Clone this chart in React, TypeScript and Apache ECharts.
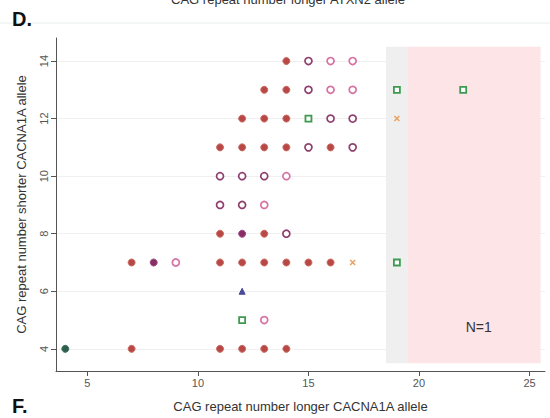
import React, { useEffect, useRef } from "react";
import * as echarts from "echarts";

const xTicks = [5, 10, 15, 20, 25];
const yTicks = [4, 6, 8, 10, 12, 14];

const filledRed: number[][] = [
  [14, 14], [13, 13], [14, 13], [12, 12], [13, 12], [14, 12],
  [11, 11], [12, 11], [13, 11], [14, 11], [16, 11], [11, 8], [13, 8],
  [7, 7], [11, 7], [12, 7], [13, 7], [14, 7], [15, 7], [16, 7],
  [7, 4], [11, 4], [12, 4], [13, 4], [14, 4],
];
const hollowPurple: number[][] = [
  [15, 14], [15, 13], [16, 12], [17, 12], [15, 11], [17, 11],
  [11, 10], [12, 10], [13, 10], [11, 9], [12, 9], [14, 8],
];
const hollowPink: number[][] = [
  [16, 14], [17, 14], [16, 13], [17, 13], [14, 10], [13, 9], [9, 7], [13, 5],
];
const filledMagenta: number[][] = [[12, 8], [8, 7]];
const greenSquares: number[][] = [[15, 12], [19, 13], [22, 13], [19, 7], [12, 5]];
const orangeX: number[][] = [[19, 12], [17, 7]];
const blueTriangle: number[][] = [[12, 6]];
const darkGreen: number[][] = [[4, 4]];

const grayBand = [18.5, 19.5];
const pinkBand = [19.5, 25.5];
const bandY = [3.5, 14.5];
const noteLabel = "N=1";
const notePos = [22.7, 4.75];

export default function App() {
  const ref = useRef<HTMLDivElement>(null);
  useEffect(() => {
    if (!ref.current) return;
    const chart = echarts.init(ref.current, null, { renderer: "svg" });
    const font = "Liberation Sans, Arial, sans-serif";
    chart.setOption({
      animation: false,
      backgroundColor: "#ffffff",
      textStyle: { fontFamily: font },
      grid: { left: 56, top: 38, right: 5, bottom: 41, containLabel: false },
      xAxis: {
        type: "value",
        min: 3.58,
        max: 25.7,
        name: "CAG repeat number longer CACNA1A allele",
        nameLocation: "middle",
        nameGap: 29,
        nameTextStyle: { fontSize: 13, color: "#333", fontFamily: font },
        axisLine: { show: true, lineStyle: { color: "#555", width: 1 } },
        axisTick: { show: true, customValues: xTicks, length: 5, lineStyle: { color: "#555" } },
        axisLabel: { customValues: xTicks, fontSize: 11, color: "#555", margin: 6, fontFamily: font },
        splitLine: { show: false },
      },
      yAxis: {
        type: "value",
        min: 3.23,
        max: 14.8,
        name: "CAG repeat number shorter CACNA1A allele",
        nameLocation: "middle",
        nameGap: 28,
        nameTextStyle: { fontSize: 13, color: "#333", fontFamily: font },
        axisLine: { show: true, lineStyle: { color: "#555", width: 1 } },
        axisTick: { show: true, customValues: yTicks, length: 5, lineStyle: { color: "#555" } },
        axisLabel: { customValues: yTicks, rotate: 90, fontSize: 11, color: "#555", margin: 7, fontFamily: font },
        splitLine: { show: true, lineStyle: { color: "#f0f0f0", width: 1 } },
      },
      graphic: [
        { type: "line", shape: { x1: 0, y1: 23, x2: 550, y2: 23 }, style: { stroke: "#e8eeee", lineWidth: 1 } },
        { type: "text", x: 288, y: -7, style: { text: "CAG repeat number longer ATXN2 allele", fontSize: 13, fill: "#333", textAlign: "center", fontFamily: font } },
        { type: "text", x: 12, y: 9, style: { text: "D.", fontSize: 20, fontWeight: "bold", fill: "#111", fontFamily: font } },
        { type: "text", x: 12, y: 396, style: { text: "F.", fontSize: 20, fontWeight: "bold", fill: "#111", fontFamily: font } },
      ],
      series: [
        {
          type: "scatter",
          name: "bands",
          data: [],
          silent: true,
          markArea: {
            silent: true,
            data: [
              [
                { xAxis: grayBand[0], yAxis: bandY[0], itemStyle: { color: "#efefef" } },
                { xAxis: grayBand[1], yAxis: bandY[1] },
              ],
              [
                { xAxis: pinkBand[0], yAxis: bandY[0], itemStyle: { color: "#fde4e7" } },
                { xAxis: pinkBand[1], yAxis: bandY[1] },
              ],
            ],
          },
          markPoint: {
            symbol: "circle",
            symbolSize: 0,
            label: { show: true, formatter: noteLabel, fontSize: 14, color: "#333", fontFamily: font },
            data: [{ coord: notePos, value: noteLabel }],
          },
        },
        {
          type: "scatter",
          data: filledRed,
          symbol: "circle",
          symbolSize: 7,
          itemStyle: { color: "#b84845", borderColor: "#cc6a62", borderWidth: 1, opacity: 1 },
        },
        {
          type: "scatter",
          data: hollowPurple,
          symbol: "circle",
          symbolSize: 7,
          itemStyle: { color: "#ffffff", borderColor: "#8e3f6e", borderWidth: 1.7, opacity: 1 },
        },
        {
          type: "scatter",
          data: hollowPink,
          symbol: "circle",
          symbolSize: 7,
          itemStyle: { color: "#ffffff", borderColor: "#d772a4", borderWidth: 1.7, opacity: 1 },
        },
        {
          type: "scatter",
          data: filledMagenta,
          symbol: "circle",
          symbolSize: 7,
          itemStyle: { color: "#882d66", borderColor: "#9a4a7c", borderWidth: 1, opacity: 1 },
        },
        {
          type: "scatter",
          data: greenSquares,
          symbol: "rect",
          symbolSize: 6,
          itemStyle: { color: "#ffffff", borderColor: "#3d9a4e", borderWidth: 1.8, opacity: 1 },
        },
        {
          type: "scatter",
          data: orangeX,
          symbol: "path://M0,0L10,10M10,0L0,10",
          symbolSize: 5,
          itemStyle: { color: "#e9a063", borderColor: "#e9a063", borderWidth: 1.5, opacity: 1 },
        },
        {
          type: "scatter",
          data: blueTriangle,
          symbol: "triangle",
          symbolSize: 6,
          itemStyle: { color: "#4b4c98", borderColor: "#4b4c98", borderWidth: 1, opacity: 1 },
        },
        {
          type: "scatter",
          data: darkGreen,
          symbol: "circle",
          symbolSize: 7,
          itemStyle: { color: "#2e5e4c", borderColor: "#3f7060", borderWidth: 1, opacity: 1 },
        },
      ],
    });
    return () => chart.dispose();
  }, []);
  return <div ref={ref} style={{ width: 550, height: 418, position: "absolute", left: 0, top: 0 }} />;
}
